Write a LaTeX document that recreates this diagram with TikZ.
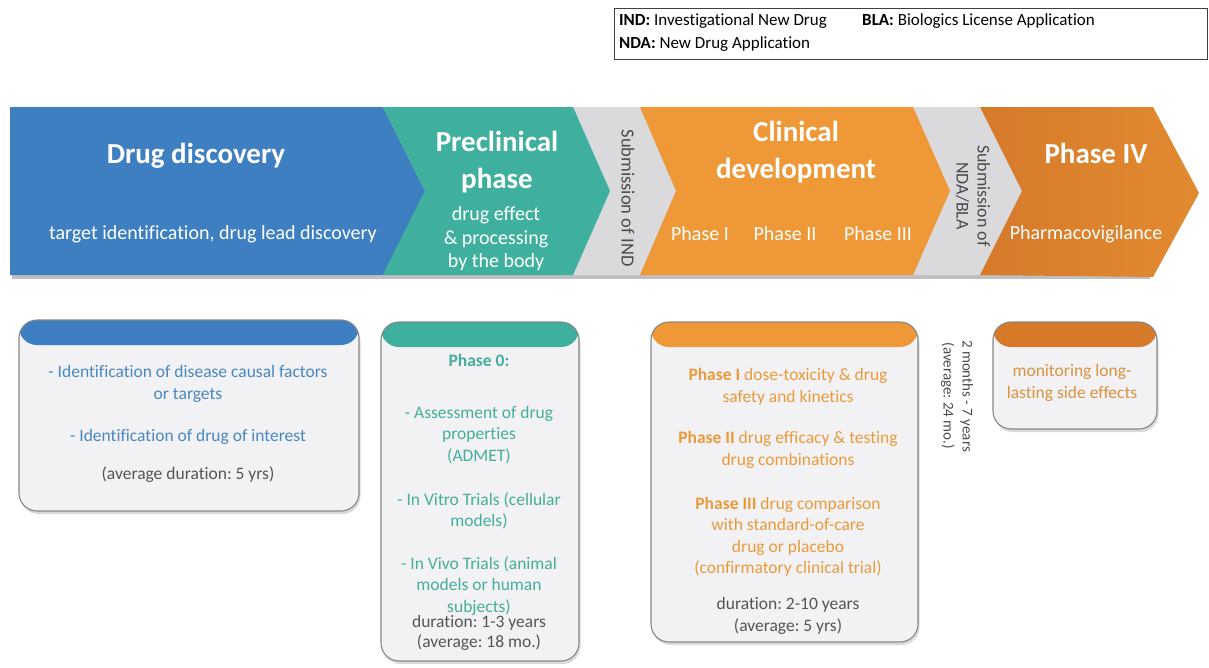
\documentclass[tikz,border=0pt]{standalone}
\usepackage{fontspec}
\setmainfont{Carlito}[Ligatures=NoCommon]
\usetikzlibrary{positioning,shadows}
\frenchspacing

\definecolor{discblue}{RGB}{62,127,193}
\definecolor{preteal}{RGB}{63,176,157}
\definecolor{clinorange}{RGB}{239,152,55}
\definecolor{phfourdark}{RGB}{214,122,42}
\definecolor{phfourlight}{RGB}{226,138,48}
\definecolor{subgray}{RGB}{218,218,221}
\definecolor{cardbg}{RGB}{242,242,244}
\definecolor{cardline}{RGB}{135,135,135}
\definecolor{sidegray}{RGB}{75,75,75}
\definecolor{textblue}{RGB}{72,135,196}
\definecolor{textteal}{RGB}{68,174,154}
\definecolor{textorange}{RGB}{234,154,58}
\definecolor{textfour}{RGB}{218,146,62}
\definecolor{durgray}{RGB}{85,85,85}

\begin{document}
\begin{tikzpicture}[x=1pt,y=-1pt,
	title/.style={text=white,font=\bfseries\fontsize{29}{37}\selectfont,align=center},
	subtitle/.style={text=white,font=\fontsize{20}{23.5}\selectfont,align=center},
	sidenote/.style={rotate=-90,text=sidegray,align=center},
	legend/.style={font=\fontsize{17}{20}\selectfont,anchor=west,inner sep=0pt},
	card/.style={fill=cardbg,draw=cardline,line width=1.1pt,rounded corners=18pt,
		drop shadow={shadow xshift=1.5pt,shadow yshift=-3pt,opacity=.3},
		path picture={\fill[#1] (path picture bounding box.north west) rectangle ([yshift=-25pt]path picture bounding box.north east);}},
	cardtext/.style={align=center,font=\fontsize{17.5}{21.5}\selectfont}]
	
	\useasboundingbox (0,0) rectangle (1209,667);
	
	% legend
	\draw[line width=1pt,draw=black!75] (614,8) rectangle (1207,59);
	\node[legend] (ind) at (619,21) {\textbf{IND:} Investigational New Drug};
	\node[legend] (bla) at (862,21) {\textbf{BLA:} Biologics License Application};
	\node[legend] (nda) at (619,44) {\textbf{NDA:} New Drug Application};
	
	% banner
	\fill[black!25] (12,110) rectangle (1150,279);
	\fill[subgray] (560,107) -- (640,107) -- (676,191) -- (640,275) -- (560,275) -- cycle;
	\fill[subgray] (900,107) -- (980,107) -- (1022,191) -- (980,275) -- (900,275) -- cycle;
	\fill[discblue] (10,107) -- (383,107) -- (425,191) -- (383,275) -- (10,275) -- cycle;
	\fill[preteal] (383,107) -- (573,107) -- (610,191) -- (573,275) -- (383,275) -- (425,191) -- cycle;
	\fill[clinorange] (640,107) -- (913,107) -- (950,191) -- (913,275) -- (640,275) -- (676,191) -- cycle;
	\shade[left color=phfourdark,right color=phfourlight] (980,107) -- (1153,107) -- (1199,193) -- (1153,277) -- (980,275) -- (1022,191) -- cycle;
	
	\node[title] (disc) at (196,156) {Drug discovery};
	\node[subtitle] (discsub) at (213,234) {target identification, drug lead discovery};
	\node[title] (pre) at (497,162) {Preclinical\\phase};
	\node[subtitle] (presub) at (496,239) {drug effect\\\& processing\\by the body};
	\node[sidenote,font=\fontsize{18.5}{21}\selectfont] (ind) at (628,198) {Submission of IND};
	\node[title] (clin) at (796,152) {Clinical\\development};
	\node[subtitle] (ph1) at (700,234) {Phase I};
	\node[subtitle] (ph2) at (785,234) {Phase II};
	\node[subtitle] (ph3) at (878,234) {Phase III};
	\node[sidenote,font=\fontsize{18}{21}\selectfont] (nda) at (973,196) {Submission of\\NDA/BLA};
	\node[title] (four) at (1096,153) {Phase IV};
	\node[subtitle] (pv) at (1086,234) {Pharmacovigilance};
	
	% cards
	\path[card=discblue] (19,320) rectangle (359,511);
	\path[card=preteal] (381,322) rectangle (579,661);
	\path[card=clinorange] (651,322) rectangle (918,642);
	\path[card=phfourdark] (993,322) rectangle (1157,429);
	
	\node[cardtext,text=textblue] (da) at (188,384) {- Identification of disease causal factors\\or targets};
	\node[cardtext,text=textblue] (db) at (188,437) {- Identification of drug of interest};
	\node[cardtext,text=durgray] (dc) at (188,475) {(average duration: 5 yrs)};
	
	\node[cardtext,text=textteal,font=\bfseries\fontsize{17.5}{21.5}\selectfont] (pa) at (479,360) {Phase 0:};
	\node[cardtext,text=textteal] (pb) at (479,435) {- Assessment of drug\\properties\\(ADMET)};
	\node[cardtext,text=textteal] (pc) at (479,511) {- In Vitro Trials (cellular\\models)};
	\node[cardtext,text=textteal] (pd) at (479,586) {- In Vivo Trials (animal\\models or human\\subjects)};
	\node[cardtext,text=durgray,font=\fontsize{17.5}{20}\selectfont] (pe) at (479,633) {duration: 1-3 years\\(average: 18 mo.)};
	
	\node[cardtext,text=textorange] (ca) at (788,387) {\textbf{Phase I} dose-toxicity \& drug\\safety and kinetics};
	\node[cardtext,text=textorange] (cb) at (788,450) {\textbf{Phase II} drug efficacy \& testing\\drug combinations};
	\node[cardtext,text=textorange] (cc) at (788,537) {\textbf{Phase III} drug comparison\\with standard-of-care\\drug or placebo\\(confirmatory clinical trial)};
	\node[cardtext,text=durgray] (cd) at (788,616) {duration: 2-10 years\\(average: 5 yrs)};
	
	\node[cardtext,text=textfour] (fa) at (1072,383) {monitoring long-\\lasting side effects};
	\node[sidenote,font=\fontsize{15}{19}\selectfont] (dur) at (957,396) {2 months - 7 years\\(average: 24 mo.)};
\end{tikzpicture}
\end{document}
